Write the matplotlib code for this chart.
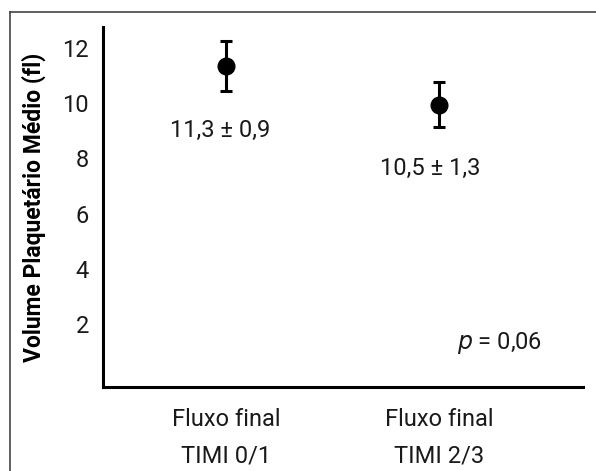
import matplotlib
matplotlib.use("Agg")
import matplotlib.pyplot as plt
from matplotlib.lines import Line2D

categories = ["Fluxo final\nTIMI 0/1", "Fluxo final\nTIMI 2/3"]
means = [11.35, 9.95]
errors = [0.9, 0.8]
annotations = ["11,3 ± 0,9", "10,5 ± 1,3"]
yticks = [2, 4, 6, 8, 10, 12]
ylabel = "Volume Plaquetário Médio (fl)"

plt.rcParams['font.family'] = ['Roboto', 'DejaVu Sans']

fig = plt.figure(figsize=(5.96, 4.71), dpi=100)
ax = fig.add_axes([0.1728, 0.1783, 0.978 - 0.1728, 0.9427 - 0.1783])

x = [1, 2]
ax.errorbar(x, means, yerr=errors, fmt='o', color='black', markersize=12,
            elinewidth=2.2, capsize=4.5, capthick=2.2)

ax.set_xlim(0.422, 2.676)
ax.set_ylim(-0.28, 12.76)
ax.set_yticks(yticks)
ax.set_yticklabels([str(t) for t in yticks])
ax.set_xticks(x)
ax.set_xticklabels(categories, linespacing=1.75)
ax.tick_params(axis='both', length=0, labelsize=17, colors='#1a1a1a')
ax.tick_params(axis='y', pad=10)
ax.tick_params(axis='x', pad=15)
ax.set_ylabel(ylabel, fontsize=16.5, fontweight='bold', labelpad=12)

for s in ['top', 'right']:
    ax.spines[s].set_visible(False)
for s in ['left', 'bottom']:
    ax.spines[s].set_linewidth(2.2)

ax.text(0.97, 9.0, annotations[0], ha='center', va='center', fontsize=17, color='#1a1a1a')
ax.text(1.96, 7.62, annotations[1], ha='center', va='center', fontsize=17, color='#1a1a1a')
ax.text(2.285, 1.3, "$\\it{p}$ = 0,06", ha='center', va='center', fontsize=17, color='#1a1a1a')

# outer frame (left and top)
fig.add_artist(Line2D([9.5/596, 9.5/596], [0, 1 - 12/471], transform=fig.transFigure, color='#444444', lw=1.2))
fig.add_artist(Line2D([9.5/596, 1], [1 - 12/471, 1 - 12/471], transform=fig.transFigure, color='#444444', lw=1.2))

fig.savefig("out.png", dpi=100)
